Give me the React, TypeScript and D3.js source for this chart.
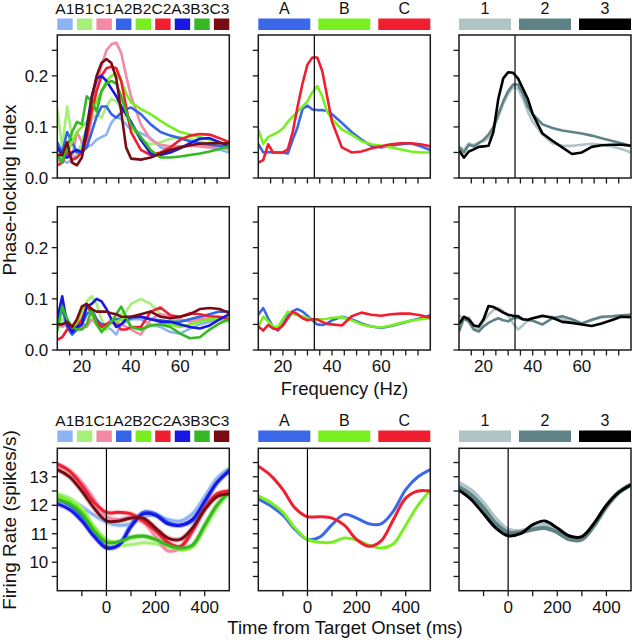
import React from "react";
import * as d3 from "d3";

// ---------- data ----------
const FREQ = [10, 12, 14, 16, 18, 20, 22, 24, 26, 28, 30, 32, 34, 36, 38, 40, 44, 48, 52, 56, 60, 64, 68, 72, 76, 80];
const TIME = [-200, -150, -100, -50, 0, 50, 100, 150, 200, 250, 300, 350, 400, 450, 500];

const FINE_LABELS = ["A1", "B1", "C1", "A2", "B2", "C2", "A3", "B3", "C3"];
const FINE_COLORS = ["#8db4f2", "#a6ef78", "#f28aa6", "#3464e8", "#78ee20", "#f01e30", "#1818e4", "#34b824", "#780c14"];
const COARSE_LABELS = ["A", "B", "C"];
const COARSE_COLORS = ["#3a68e8", "#78f020", "#f01e30"];
const LEVEL_LABELS = ["1", "2", "3"];
const LEVEL_COLORS = ["#b0c4c5", "#5f8286", "#000000"];

// Phase-locking index, top row
const PLI_TOP_FINE = [
  [0.045, 0.035, 0.03, 0.035, 0.045, 0.055, 0.06, 0.065, 0.075, 0.08, 0.085, 0.108, 0.12, 0.115, 0.105, 0.095, 0.088, 0.078, 0.06, 0.056, 0.06, 0.064, 0.064, 0.06, 0.056, 0.05],
  [0.135, 0.06, 0.14, 0.08, 0.045, 0.07, 0.1, 0.115, 0.125, 0.118, 0.14, 0.155, 0.15, 0.135, 0.12, 0.1, 0.075, 0.066, 0.07, 0.077, 0.08, 0.077, 0.072, 0.066, 0.06, 0.055],
  [0.035, 0.03, 0.05, 0.04, 0.09, 0.07, 0.06, 0.12, 0.18, 0.22, 0.25, 0.262, 0.265, 0.245, 0.2, 0.16, 0.105, 0.075, 0.065, 0.062, 0.062, 0.063, 0.062, 0.06, 0.06, 0.058],
  [0.07, 0.05, 0.09, 0.07, 0.05, 0.05, 0.06, 0.09, 0.12, 0.14, 0.14, 0.125, 0.118, 0.128, 0.135, 0.138, 0.125, 0.105, 0.09, 0.083, 0.078, 0.072, 0.068, 0.065, 0.063, 0.06],
  [0.06, 0.04, 0.05, 0.07, 0.09, 0.1, 0.11, 0.13, 0.15, 0.17, 0.19, 0.2, 0.205, 0.19, 0.165, 0.148, 0.135, 0.125, 0.112, 0.1, 0.09, 0.085, 0.08, 0.075, 0.07, 0.065],
  [0.025, 0.03, 0.05, 0.035, 0.04, 0.05, 0.08, 0.13, 0.17, 0.2, 0.215, 0.218, 0.215, 0.19, 0.14, 0.09, 0.055, 0.045, 0.05, 0.06, 0.075, 0.083, 0.086, 0.085, 0.078, 0.07],
  [0.06, 0.045, 0.04, 0.05, 0.055, 0.05, 0.1, 0.16, 0.195, 0.2, 0.19, 0.175, 0.16, 0.14, 0.125, 0.11, 0.075, 0.048, 0.045, 0.05, 0.058, 0.068, 0.077, 0.078, 0.07, 0.062],
  [0.045, 0.03, 0.06, 0.09, 0.11, 0.105, 0.16, 0.15, 0.13, 0.17, 0.185, 0.19, 0.185, 0.16, 0.13, 0.105, 0.08, 0.055, 0.04, 0.04, 0.042, 0.045, 0.048, 0.052, 0.057, 0.062],
  [0.045, 0.045, 0.07, 0.03, 0.025, 0.04, 0.09, 0.155, 0.2, 0.225, 0.233, 0.225, 0.195, 0.13, 0.06, 0.038, 0.036, 0.04, 0.048, 0.055, 0.06, 0.064, 0.067, 0.068, 0.068, 0.068],
];
const PLI_TOP_COARSE = [
  [0.067, 0.05, 0.051, 0.05, 0.05, 0.05, 0.048, 0.075, 0.1, 0.135, 0.142, 0.134, 0.133, 0.133, 0.131, 0.125, 0.108, 0.09, 0.075, 0.063, 0.06, 0.063, 0.066, 0.068, 0.062, 0.055],
  [0.095, 0.067, 0.08, 0.085, 0.09, 0.097, 0.11, 0.12, 0.13, 0.14, 0.15, 0.168, 0.18, 0.16, 0.13, 0.115, 0.095, 0.085, 0.072, 0.066, 0.063, 0.06, 0.056, 0.052, 0.05, 0.05],
  [0.03, 0.035, 0.066, 0.05, 0.05, 0.05, 0.056, 0.09, 0.14, 0.185, 0.222, 0.236, 0.236, 0.21, 0.16, 0.11, 0.06, 0.05, 0.052, 0.058, 0.062, 0.066, 0.068, 0.068, 0.066, 0.062],
];
const PLI_TOP_LEVEL = [
  [0.062, 0.055, 0.068, 0.064, 0.07, 0.072, 0.078, 0.095, 0.12, 0.145, 0.165, 0.178, 0.175, 0.155, 0.13, 0.11, 0.085, 0.068, 0.063, 0.063, 0.065, 0.067, 0.065, 0.062, 0.057, 0.05],
  [0.06, 0.05, 0.065, 0.062, 0.068, 0.075, 0.085, 0.1, 0.125, 0.15, 0.17, 0.183, 0.183, 0.165, 0.14, 0.125, 0.105, 0.098, 0.093, 0.09, 0.087, 0.083, 0.078, 0.073, 0.068, 0.063],
  [0.054, 0.04, 0.052, 0.056, 0.061, 0.062, 0.063, 0.09, 0.155, 0.195, 0.207, 0.206, 0.195, 0.175, 0.155, 0.125, 0.087, 0.073, 0.06, 0.047, 0.05, 0.061, 0.064, 0.065, 0.065, 0.063],
];

// Phase-locking index, middle row
const PLI_MID_FINE = [
  [0.08, 0.05, 0.05, 0.04, 0.045, 0.05, 0.05, 0.06, 0.05, 0.04, 0.045, 0.04, 0.03, 0.05, 0.055, 0.06, 0.06, 0.05, 0.045, 0.035, 0.032, 0.042, 0.05, 0.055, 0.06, 0.065],
  [0.04, 0.06, 0.05, 0.04, 0.055, 0.075, 0.095, 0.105, 0.09, 0.06, 0.04, 0.055, 0.06, 0.07, 0.075, 0.09, 0.1, 0.09, 0.07, 0.06, 0.055, 0.06, 0.065, 0.065, 0.06, 0.055],
  [0.05, 0.045, 0.05, 0.04, 0.04, 0.045, 0.045, 0.06, 0.055, 0.05, 0.05, 0.06, 0.055, 0.05, 0.045, 0.04, 0.03, 0.06, 0.07, 0.065, 0.06, 0.055, 0.06, 0.06, 0.06, 0.06],
  [0.06, 0.08, 0.045, 0.03, 0.04, 0.05, 0.07, 0.08, 0.06, 0.05, 0.05, 0.055, 0.06, 0.06, 0.06, 0.062, 0.065, 0.06, 0.058, 0.055, 0.055, 0.06, 0.065, 0.07, 0.075, 0.075],
  [0.035, 0.09, 0.06, 0.04, 0.05, 0.08, 0.085, 0.07, 0.05, 0.04, 0.05, 0.055, 0.055, 0.06, 0.06, 0.045, 0.04, 0.048, 0.05, 0.05, 0.045, 0.05, 0.055, 0.06, 0.06, 0.065],
  [0.02, 0.025, 0.04, 0.04, 0.045, 0.06, 0.085, 0.075, 0.055, 0.045, 0.05, 0.055, 0.05, 0.04, 0.04, 0.045, 0.045, 0.075, 0.083, 0.068, 0.065, 0.072, 0.07, 0.066, 0.065, 0.06],
  [0.06, 0.105, 0.05, 0.035, 0.045, 0.05, 0.085, 0.09, 0.1, 0.095, 0.08, 0.06, 0.045, 0.05, 0.06, 0.065, 0.065, 0.06, 0.055, 0.055, 0.05, 0.045, 0.042, 0.048, 0.06, 0.07],
  [0.04, 0.085, 0.06, 0.045, 0.04, 0.04, 0.05, 0.08, 0.05, 0.035, 0.045, 0.055, 0.07, 0.085, 0.065, 0.045, 0.04, 0.048, 0.05, 0.045, 0.032, 0.023, 0.025, 0.04, 0.052, 0.06],
  [0.05, 0.05, 0.055, 0.045, 0.06, 0.085, 0.09, 0.08, 0.075, 0.075, 0.075, 0.072, 0.07, 0.065, 0.065, 0.065, 0.07, 0.075, 0.065, 0.062, 0.065, 0.07, 0.08, 0.082, 0.08, 0.072],
];
const PLI_MID_COARSE = [
  [0.069, 0.082, 0.062, 0.045, 0.038, 0.05, 0.067, 0.076, 0.08, 0.075, 0.067, 0.058, 0.05, 0.049, 0.052, 0.058, 0.065, 0.06, 0.052, 0.046, 0.043, 0.047, 0.052, 0.057, 0.062, 0.068],
  [0.046, 0.065, 0.056, 0.046, 0.045, 0.06, 0.075, 0.071, 0.068, 0.066, 0.062, 0.06, 0.059, 0.06, 0.061, 0.063, 0.064, 0.058, 0.05, 0.046, 0.044, 0.048, 0.053, 0.057, 0.06, 0.062],
  [0.046, 0.038, 0.049, 0.042, 0.04, 0.048, 0.062, 0.075, 0.07, 0.062, 0.058, 0.06, 0.06, 0.055, 0.051, 0.05, 0.048, 0.066, 0.073, 0.069, 0.067, 0.07, 0.071, 0.071, 0.068, 0.063],
];
const PLI_MID_LEVEL = [
  [0.069, 0.059, 0.064, 0.045, 0.04, 0.055, 0.069, 0.078, 0.082, 0.076, 0.067, 0.052, 0.04, 0.048, 0.058, 0.062, 0.065, 0.065, 0.06, 0.054, 0.052, 0.058, 0.064, 0.065, 0.067, 0.069],
  [0.036, 0.062, 0.055, 0.04, 0.036, 0.046, 0.053, 0.058, 0.062, 0.058, 0.056, 0.062, 0.063, 0.06, 0.058, 0.057, 0.05, 0.062, 0.066, 0.06, 0.052, 0.059, 0.065, 0.066, 0.068, 0.069],
  [0.051, 0.065, 0.06, 0.048, 0.046, 0.06, 0.086, 0.084, 0.079, 0.073, 0.069, 0.067, 0.066, 0.06, 0.059, 0.062, 0.067, 0.063, 0.055, 0.053, 0.05, 0.047, 0.052, 0.058, 0.065, 0.064],
];

// Firing rate, bottom row
const RATE_FINE = [
  [12.35, 12.2, 11.95, 11.65, 11.4, 11.3, 11.35, 11.6, 11.65, 11.5, 11.45, 11.7, 12.3, 12.95, 13.3],
  [12.4, 12.25, 11.9, 11.25, 10.8, 10.6, 10.62, 10.68, 10.65, 10.55, 10.45, 10.6, 11.2, 11.9, 12.45],
  [13.4, 13.2, 12.8, 12.2, 11.6, 11.5, 11.55, 11.4, 10.9, 10.4, 10.5, 11.1, 11.9, 12.35, 12.45],
  [12.2, 12.0, 11.6, 11.0, 10.55, 10.6, 11.3, 11.75, 11.7, 11.4, 11.3, 11.45, 12.1, 12.8, 13.25],
  [12.35, 12.15, 11.8, 11.2, 10.75, 10.7, 10.85, 10.9, 10.8, 10.6, 10.45, 10.55, 11.25, 12.0, 12.5],
  [13.45, 13.2, 12.7, 12.1, 11.75, 11.75, 11.7, 11.45, 11.1, 10.7, 10.55, 11.1, 11.9, 12.4, 12.5],
  [12.05, 11.85, 11.45, 10.9, 10.5, 10.6, 11.25, 11.7, 11.65, 11.35, 11.3, 11.5, 12.15, 12.8, 13.2],
  [12.2, 12.05, 11.7, 11.1, 10.7, 10.72, 10.88, 10.92, 10.8, 10.6, 10.5, 10.6, 11.3, 12.0, 12.45],
  [13.25, 13.0, 12.5, 11.9, 11.45, 11.45, 11.55, 11.55, 11.2, 10.85, 10.8, 11.2, 11.85, 12.3, 12.4],
];
const RATE_COARSE = [
  [12.22, 11.98, 11.65, 11.15, 10.8, 10.88, 11.32, 11.68, 11.55, 11.35, 11.35, 11.8, 12.55, 13.0, 13.25],
  [12.33, 12.1, 11.75, 11.2, 10.8, 10.7, 10.7, 10.85, 10.78, 10.6, 10.5, 10.65, 11.3, 12.0, 12.53],
  [13.37, 13.05, 12.55, 11.9, 11.6, 11.6, 11.55, 11.3, 10.8, 10.56, 10.75, 11.5, 12.25, 12.5, 12.5],
];
const RATE_LEVEL = [
  [12.77, 12.5, 12.05, 11.5, 11.13, 11.08, 11.2, 11.3, 11.15, 10.87, 10.85, 11.3, 11.95, 12.45, 12.72],
  [12.63, 12.35, 11.9, 11.35, 11.05, 11.05, 11.15, 11.2, 11.05, 10.8, 10.8, 11.3, 11.97, 12.45, 12.72],
  [12.53, 12.2, 11.7, 11.2, 10.93, 11.0, 11.32, 11.45, 11.2, 10.92, 10.9, 11.37, 12.0, 12.45, 12.72],
];

const FREQ_TICKS = [15, 20, 25, 30, 35, 40, 45, 50, 55, 60, 65, 70, 75];
const FREQ_TICK_LABELS = [20, 40, 60];
const PLI_TICKS = [0.05, 0.1, 0.15, 0.2, 0.25];
const PLI_TICK_LABELS = [0, 0.1, 0.2];
const TIME_TICKS = [-100, 0, 100, 200, 300, 400];
const TIME_TICK_LABELS = [0, 200, 400];
const RATE_TICKS = [9.5, 10, 10.5, 11, 11.5, 12, 12.5, 13, 13.5];
const RATE_TICK_LABELS = [10, 11, 12, 13];
const MARKER_FREQ = 32.8;
const MARKER_TIME = 0;

// ---------- layout ----------
const FONT = "'Liberation Sans', Arial, Helvetica, sans-serif";
const COL_X = [57.3, 258.3, 459];
const PW = 172;
const ROWS = [
  { top: 35, bottom: 178 },
  { top: 206.7, bottom: 350 },
  { top: 448.3, bottom: 590.7 },
];

type PanelProps = {
  id: string;
  col: number;
  row: number;
  xs: number[];
  xDomain: [number, number];
  yDomain: [number, number];
  series: number[][];
  colors: string[];
  widths: number[];
  band?: boolean;
  smooth?: boolean;
  xTicks: number[];
  xLabels: number[] | null;
  labelOffset: number;
  yTicks: number[];
  yLabels: number[] | null;
  yFormat: (v: number) => string;
  marker: number | null;
};

function Panel(p: PanelProps) {
  const x0 = COL_X[p.col];
  const { top, bottom } = ROWS[p.row];
  const x = d3.scaleLinear().domain(p.xDomain).range([x0, x0 + PW]);
  const y = d3.scaleLinear().domain(p.yDomain).range([bottom, top]);
  const line = d3
    .line<number>()
    .x((_, i) => x(p.xs[i]))
    .y((d) => y(d))
    .curve(p.smooth ? d3.curveCatmullRom.alpha(0.5) : d3.curveLinear);
  const clipId = `clip-${p.id}`;
  return (
    <g>
      <defs>
        <clipPath id={clipId}>
          <rect x={x0} y={top} width={PW} height={bottom - top} />
        </clipPath>
      </defs>
      <g clipPath={`url(#${clipId})`}>
        {p.band &&
          p.series.map((s, i) => (
            <path key={`b${i}`} d={line(s) || ""} fill="none" stroke={p.colors[i]} strokeOpacity={0.22} strokeWidth={5.5} strokeLinejoin="round" />
          ))}
        {p.series.map((s, i) => (
          <path key={i} d={line(s) || ""} fill="none" stroke={p.colors[i]} strokeWidth={p.widths[i]} strokeLinejoin="round" />
        ))}
      </g>
      {p.marker !== null && (
        <line x1={x(p.marker)} x2={x(p.marker)} y1={top} y2={bottom} stroke="#000" strokeWidth={1.2} />
      )}
      <rect x={x0} y={top} width={PW} height={bottom - top} fill="none" stroke="#1a1a1a" strokeWidth={1.5} />
      {p.xTicks.map((t) => (
        <line key={`xt${t}`} x1={x(t)} x2={x(t)} y1={bottom} y2={bottom + 5.5} stroke="#1a1a1a" strokeWidth={1.3} />
      ))}
      {p.yTicks.map((t) => (
        <line key={`yt${t}`} x1={x0 - 5.5} x2={x0} y1={y(t)} y2={y(t)} stroke="#1a1a1a" strokeWidth={1.3} />
      ))}
      {p.xLabels &&
        p.xLabels.map((t) => (
          <text key={`xl${t}`} x={x(t)} y={bottom + p.labelOffset} textAnchor="middle" fontSize={17} fontFamily={FONT} fill="#111">
            {t}
          </text>
        ))}
      {p.yLabels &&
        p.yLabels.map((t) => (
          <text key={`yl${t}`} x={x0 - 9} y={y(t) + 6} textAnchor="end" fontSize={17} fontFamily={FONT} fill="#111">
            {p.yFormat(t)}
          </text>
        ))}
    </g>
  );
}

function FineLegend({ y }: { y: number }) {
  const x0 = COL_X[0];
  const step = (PW - 15.4) / 8;
  return (
    <g>
      <text x={x0 - 2} y={y} fontSize={15.5} fontFamily={FONT} fill="#111" textLength={174} lengthAdjust="spacingAndGlyphs">
        {FINE_LABELS.join("")}
      </text>
      {FINE_COLORS.map((c, i) => (
        <rect key={i} x={x0 + i * step} y={y + 4.5} width={15.4} height={11.5} fill={c} />
      ))}
    </g>
  );
}

function WideLegend({ col, y, labels, colors }: { col: number; y: number; labels: string[]; colors: string[] }) {
  const x0 = COL_X[col];
  const w = 52;
  const step = (PW - w) / 2;
  return (
    <g>
      {labels.map((l, i) => (
        <g key={l}>
          <text x={x0 + i * step + w / 2} y={y} textAnchor="middle" fontSize={16} fontFamily={FONT} fill="#111">
            {l}
          </text>
          <rect x={x0 + i * step} y={y + 4.5} width={w} height={11.5} fill={colors[i]} />
        </g>
      ))}
    </g>
  );
}

export default function App() {
  const fmt1 = (v: number) => v.toFixed(1);
  const fmt0 = (v: number) => String(v);
  const phaseRows = [
    { row: 0, sets: [PLI_TOP_FINE, PLI_TOP_COARSE, PLI_TOP_LEVEL], labels: false },
    { row: 1, sets: [PLI_MID_FINE, PLI_MID_COARSE, PLI_MID_LEVEL], labels: true },
  ];
  const colorSets = [FINE_COLORS, COARSE_COLORS, LEVEL_COLORS];
  return (
    <svg width={632} height={640} style={{ position: "absolute", left: 0, top: 0, background: "#fff" }}>
      <rect x={0} y={0} width={632} height={640} fill="#fff" />
      <FineLegend y={14} />
      <WideLegend col={1} y={14} labels={COARSE_LABELS} colors={COARSE_COLORS} />
      <WideLegend col={2} y={14} labels={LEVEL_LABELS} colors={LEVEL_COLORS} />
      {phaseRows.map((r) =>
        r.sets.map((s, c) => (
          <Panel
            key={`p${r.row}${c}`}
            id={`p${r.row}${c}`}
            col={c}
            row={r.row}
            xs={FREQ}
            xDomain={[10, 80]}
            yDomain={[0, 0.28]}
            series={s}
            colors={colorSets[c]}
            widths={s.map(() => 2.6)}
            xTicks={FREQ_TICKS}
            xLabels={r.labels ? FREQ_TICK_LABELS : null}
            labelOffset={22}
            yTicks={[0, ...PLI_TICKS]}
            yLabels={c === 0 ? PLI_TICK_LABELS : null}
            yFormat={fmt1}
            marker={c === 0 ? null : MARKER_FREQ}
          />
        ))
      )}
      <FineLegend y={426} />
      <WideLegend col={1} y={426} labels={COARSE_LABELS} colors={COARSE_COLORS} />
      <WideLegend col={2} y={426} labels={LEVEL_LABELS} colors={LEVEL_COLORS} />
      {[RATE_FINE, RATE_COARSE, RATE_LEVEL].map((s, c) => (
        <Panel
          key={`r${c}`}
          id={`r${c}`}
          col={c}
          row={2}
          xs={TIME}
          xDomain={[-200, 500]}
          yDomain={[9, 14]}
          series={s}
          colors={colorSets[c]}
          widths={c === 0 ? s.map(() => 3) : c === 1 ? [3, 3, 3] : [5, 4, 3]}
          band={c === 0}
          smooth
          xTicks={TIME_TICKS}
          xLabels={TIME_TICK_LABELS}
          labelOffset={22}
          yTicks={RATE_TICKS}
          yLabels={c === 0 ? RATE_TICK_LABELS : null}
          yFormat={fmt0}
          marker={MARKER_TIME}
        />
      ))}
      <text transform="translate(16,190) rotate(-90)" textAnchor="middle" fontSize={19} fontFamily={FONT} fill="#111">
        Phase-locking Index
      </text>
      <text x={344.5} y={394.5} textAnchor="middle" fontSize={18.5} fontFamily={FONT} fill="#111">
        Frequency (Hz)
      </text>
      <text transform="translate(16,520) rotate(-90)" textAnchor="middle" fontSize={19} fontFamily={FONT} fill="#111">
        Firing Rate (spikes/s)
      </text>
      <text x={345} y={634} textAnchor="middle" fontSize={18.5} fontFamily={FONT} fill="#111">
        Time from Target Onset (ms)
      </text>
    </svg>
  );
}
